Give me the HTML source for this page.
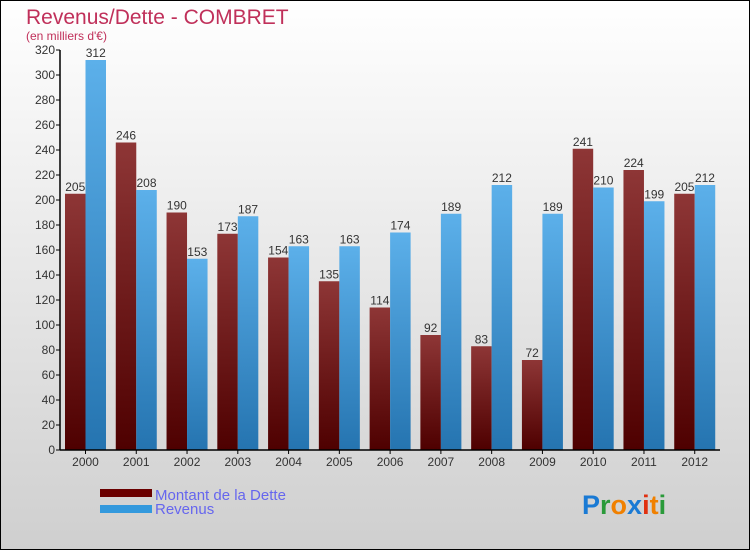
<!DOCTYPE html>
<html><head><meta charset="utf-8"><style>
body{margin:0}
#c{width:750px;height:550px;position:relative;overflow:hidden;font-family:"Liberation Sans",sans-serif}
</style></head><body>
<div id="c">
<svg id="s" width="750" height="550" xmlns="http://www.w3.org/2000/svg">
<defs>
<linearGradient id="bg" x1="0" y1="0" x2="0" y2="1"><stop offset="0" stop-color="#ffffff"/><stop offset="1" stop-color="#cfcfcf"/></linearGradient>
<linearGradient id="gd" x1="0" y1="0" x2="0" y2="1"><stop offset="0" stop-color="#8e3636"/><stop offset="1" stop-color="#4e0000"/></linearGradient>
<linearGradient id="gr" x1="0" y1="0" x2="0" y2="1"><stop offset="0" stop-color="#5cb0ea"/><stop offset="1" stop-color="#2574b0"/></linearGradient>
</defs>
<rect x="0.5" y="0.5" width="749" height="549" fill="url(#bg)" stroke="#000"/>
<text x="26" y="24" font-size="21" fill="#c0305a">Revenus/Dette - COMBRET</text>
<text x="26" y="40" font-size="12" fill="#c0305a">(en milliers d'€)</text>
<g id="plot"></g>
<rect x="100" y="489" width="52" height="8" fill="#6a0000"/>
<text x="155" y="500" font-size="15" fill="#6666ee">Montant de la Dette</text>
<rect x="100" y="505" width="52" height="8" fill="#3399dd"/>
<text x="155" y="514" font-size="15" fill="#6666ee">Revenus</text>
<text x="582" y="514" font-size="27" font-weight="bold"><tspan fill="#1a7ad4">P</tspan><tspan fill="#2a9a3a">r</tspan><tspan fill="#f08000">o</tspan><tspan fill="#1a7ad4">x</tspan><tspan fill="#e03010">i</tspan><tspan fill="#f08000">t</tspan><tspan fill="#2a9a3a">i</tspan></text>
</svg>
</div>
<script>
const years=["2000","2001","2002","2003","2004","2005","2006","2007","2008","2009","2010","2011","2012"];
const dette=[205,246,190,173,154,135,114,92,83,72,241,224,205];
const revenus=[312,208,153,187,163,163,174,189,212,189,210,199,212];
const yTicks=[0,20,40,60,80,100,120,140,160,180,200,220,240,260,280,300,320];
const NS="http://www.w3.org/2000/svg";
const g=document.getElementById("plot");
const x0=60,x1=720,y0=450,yTop=50,yMax=320;
const gw=(x1-x0)/years.length;
function yS(v){return y0-(v/yMax)*(y0-yTop);}
function xG(i){return x0+i*gw;}
function mk(t,a,txt){const e=document.createElementNS(NS,t);for(const k in a)e.setAttribute(k,a[k]);if(txt!==undefined)e.textContent=txt;g.appendChild(e);return e;}
yTicks.forEach(v=>{
 const y=yS(v);
 const t=mk("line",{x1:x0-4,x2:x0,y1:y,y2:y,stroke:"#000"});
 
 
 const l=mk("text",{x:x0-5,y:y+4,"font-size":12,"text-anchor":"end",fill:"#333"},v);
 
 
});
years.forEach((yr,i)=>{
 const gx=xG(i);
 const bw=20.5;
 const bd=mk("rect",{x:gx+5,y:yS(dette[i]),width:bw,height:y0-yS(dette[i]),fill:"url(#gd)"});
 
 
 const br=mk("rect",{x:gx+5+bw,y:yS(revenus[i]),width:bw,height:y0-yS(revenus[i]),fill:"url(#gr)"});
 
 
 const ld=mk("text",{x:gx+5+bw/2,y:yS(dette[i])-3,"font-size":12,"text-anchor":"middle",fill:"#333"},dette[i]);
 
 
 const lr=mk("text",{x:gx+5+bw*1.5,y:yS(revenus[i])-3,"font-size":12,"text-anchor":"middle",fill:"#333"},revenus[i]);
 
 
 const tk=mk("line",{x1:gx+5+bw,x2:gx+5+bw,y1:y0,y2:y0+4,stroke:"#000"});
 
 
 const xl=mk("text",{x:gx+5+bw,y:y0+16,"font-size":12,"text-anchor":"middle",fill:"#333"},yr);
 
 
});
const ax=mk("line",{x1:x0,x2:x0,y1:yTop,y2:y0,stroke:"#000","stroke-width":1.5});


const bx=mk("line",{x1:x0,x2:x1,y1:y0,y2:y0,stroke:"#000","stroke-width":1.5});


</script>
</body></html>
